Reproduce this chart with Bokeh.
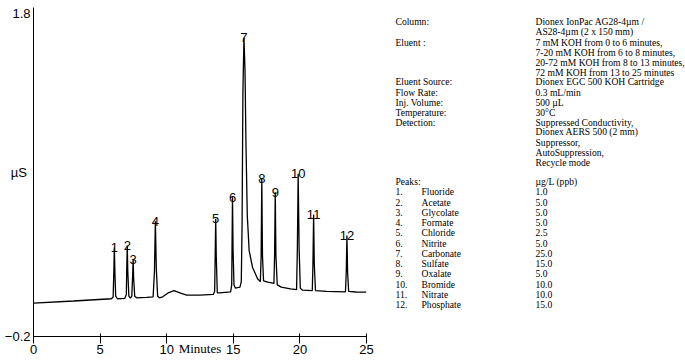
from bokeh.plotting import figure
from bokeh.models import Range1d, FixedTicker
from bokeh.layouts import row
from bokeh.embed import file_html
from bokeh.resources import INLINE
from bokeh.core.properties import value

# ---- chromatogram trace (minutes, µS) ----
times = [0.0, 3.0, 5.85, 5.98, 6.03, 6.07, 6.11, 6.17, 6.3, 6.85, 6.97, 7.0, 7.04, 7.08, 7.16,
         7.28, 7.38, 7.44, 7.48, 7.52, 7.6, 7.75, 8.5, 8.98, 9.08, 9.15, 9.22, 9.32, 9.45, 9.7,
         10.1, 10.55, 11.0, 11.5, 12.5, 13.5, 13.6, 13.64, 13.68, 13.72, 13.8, 13.95, 14.8, 14.88,
         14.91, 14.94, 14.98, 15.05, 15.15, 15.5, 15.6, 15.66, 15.72, 15.8, 15.88, 15.95, 16.05,
         16.19, 16.44, 16.82, 17.03, 17.09, 17.14, 17.19, 17.27, 17.6, 18.05, 18.1, 18.15, 18.2,
         18.3, 18.6, 19.3, 19.75, 19.81, 19.87, 19.94, 20.03, 20.2, 20.93, 20.98, 21.03, 21.08,
         21.17, 22.0, 23.42, 23.48, 23.53, 23.58, 23.66, 24.2, 25.0]
signal = [0.007, 0.020, 0.034, 0.045, 0.20, 0.352, 0.20, 0.05, 0.034, 0.036, 0.06, 0.22, 0.364, 0.20, 0.05,
          0.038, 0.05, 0.17, 0.276, 0.16, 0.05, 0.040, 0.042, 0.046, 0.20, 0.515, 0.22, 0.05, 0.040, 0.046,
          0.07, 0.085, 0.07, 0.056, 0.057, 0.061, 0.08, 0.30, 0.530, 0.30, 0.07, 0.070, 0.077, 0.12,
          0.40, 0.664, 0.35, 0.12, 0.100, 0.106, 0.14, 0.50, 1.30, 1.652, 1.45, 1.00, 0.55,
          0.333, 0.230, 0.158, 0.140, 0.30, 0.778, 0.30, 0.145, 0.137, 0.129, 0.30, 0.695, 0.30,
          0.120, 0.106, 0.095, 0.090, 0.35, 0.809, 0.35, 0.10, 0.087, 0.085, 0.25, 0.557, 0.25,
          0.085, 0.080, 0.077, 0.20, 0.426, 0.20, 0.080, 0.076, 0.075]

peak_ids = ["1", "2", "3", "4", "5", "6", "7", "8", "9", "10", "11", "12"]
peak_times = [6.07, 7.04, 7.48, 9.15, 13.68, 14.94, 15.8, 17.14, 18.15, 19.87, 21.03, 23.53]
peak_heights = [0.352, 0.364, 0.276, 0.515, 0.530, 0.664, 1.652, 0.778, 0.695, 0.809, 0.557, 0.426]

x_ticks = [0, 5, 10, 15, 20, 25]
y_ticks = [-0.2, 1.8]
x_title = "Minutes"
y_title = "µS"

# ---- conditions text ----
cond_labels = ["Column:", "Eluent :", "Eluent Source:", "Flow Rate:", "Inj. Volume:",
               "Temperature:", "Detection:", "Peaks:"]
cond_values = ["Dionex IonPac AG28-4µm /", "AS28-4µm  (2 x 150 mm)",
               "7 mM KOH from 0 to 6 minutes,", "7-20 mM KOH from 6 to 8 minutes,",
               "20-72 mM KOH from 8 to 13 minutes,", "72 mM KOH from 13 to 25 minutes",
               "Dionex EGC 500 KOH Cartridge", "0.3 mL/min", "500 µL", "30°C",
               "Suppressed Conductivity,", "Dionex AERS 500 (2 mm)", "Suppressor,",
               "AutoSuppression,", "Recycle mode", "µg/L (ppb)"]
peak_names = ["Fluoride", "Acetate", "Glycolate", "Formate", "Chloride", "Nitrite",
              "Carbonate", "Sulfate", "Oxalate", "Bromide", "Nitrate", "Phosphate"]
peak_conc = ["1.0", "5.0", "5.0", "5.0", "2.5", "5.0", "25.0", "15.0", "5.0", "10.0", "10.0", "15.0"]

# layout of text rows (screen y, px)
value_rows_y = [15, 26, 38, 49.5, 60.5, 71, 81, 93, 104, 115, 126, 136, 148, 159, 170, 192]
label_rows_y = [15, 38, 81, 93, 104, 115, 126, 192]
peak_rows_y = [203 + 11.27 * i for i in range(12)]

SANS = "Liberation Sans"
SERIF = "Liberation Serif"

p = figure(width=385, height=362, x_range=Range1d(0, 25), y_range=Range1d(-0.2, 1.84),
           output_backend="svg", toolbar_location=None,
           min_border_left=33, min_border_right=19, min_border_top=7, min_border_bottom=26)
p.outline_line_color = None
p.xgrid.visible = False
p.ygrid.visible = False

p.line(times, signal, line_color="black", line_width=1.3)
p.text(x=peak_times, y=peak_heights, text=peak_ids, text_align="center",
       text_baseline="alphabetic", text_font=value(SANS), text_font_size="13px",
       text_color="black")

xa = p.xaxis[0]
xa.ticker = FixedTicker(ticks=x_ticks)
xa.major_tick_in = 3
xa.major_tick_out = 7
xa.minor_tick_line_color = None
xa.axis_line_color = "black"
xa.major_tick_line_color = "black"
xa.major_label_text_font = SANS
xa.major_label_text_font_size = "13px"
xa.major_label_text_color = "black"
xa.major_label_standoff = 1
xa.axis_label = x_title
xa.axis_label_text_font = SERIF
xa.axis_label_text_font_style = "normal"
xa.axis_label_text_font_size = "13px"
xa.axis_label_text_color = "black"
xa.axis_label_standoff = -16

ya = p.yaxis[0]
ya.ticker = FixedTicker(ticks=y_ticks)
ya.major_tick_in = 0
ya.major_tick_out = 0
ya.minor_tick_line_color = None
ya.axis_line_color = "black"
ya.major_label_text_font = SANS
ya.major_label_text_font_size = "13px"
ya.major_label_text_color = "black"
ya.major_label_standoff = 3
ya.axis_label = y_title
ya.axis_label_orientation = "horizontal"
ya.axis_label_text_font = SANS
ya.axis_label_text_font_style = "normal"
ya.axis_label_text_font_size = "13px"
ya.axis_label_text_color = "black"
ya.axis_label_standoff = -25

t = figure(width=300, height=362, x_range=Range1d(385, 685), y_range=Range1d(362, 0),
           output_backend="svg", toolbar_location=None, min_border=0,
           x_axis_location=None, y_axis_location=None)
t.outline_line_color = None
t.xgrid.visible = False
t.ygrid.visible = False

tf = dict(text_baseline="middle", text_font=value(SERIF), text_font_size="9.6px", text_color="black")
t.text(x=[395] * len(cond_labels), y=label_rows_y, text=cond_labels, **tf)
t.text(x=[535] * len(cond_values), y=value_rows_y, text=cond_values, **tf)
t.text(x=[395] * len(peak_ids), y=peak_rows_y, text=[s + "." for s in peak_ids], **tf)
t.text(x=[421] * len(peak_names), y=peak_rows_y, text=peak_names, **tf)
t.text(x=[535] * len(peak_conc), y=peak_rows_y, text=peak_conc, **tf)

layout = row(p, t)
open("out.html", "w").write(file_html(layout, INLINE))
